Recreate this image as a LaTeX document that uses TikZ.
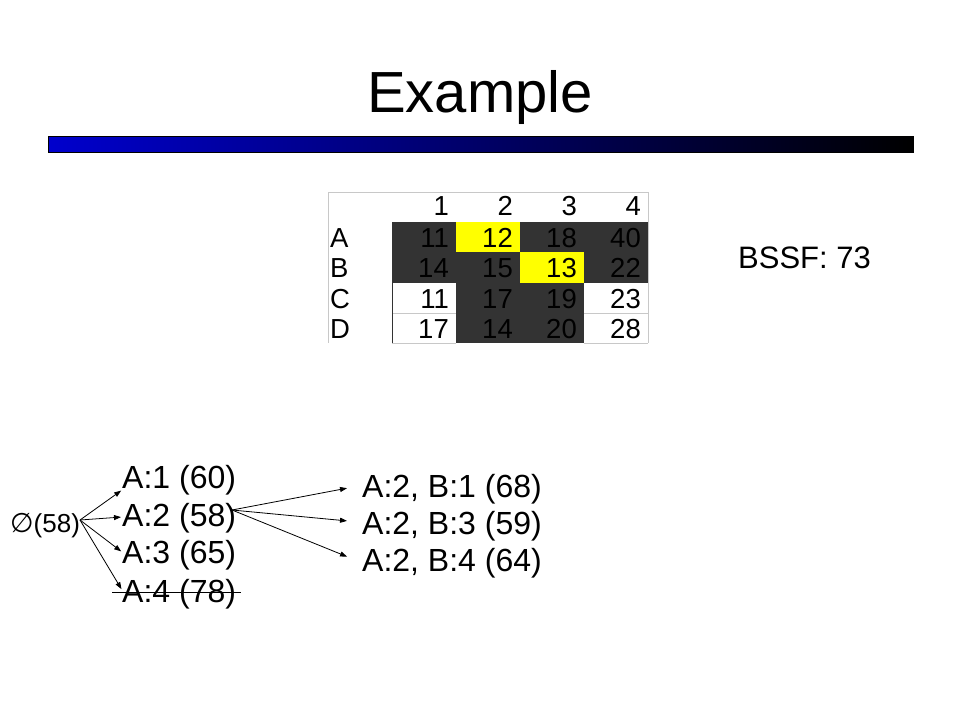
\documentclass[tikz,border=0pt]{standalone}
\usepackage{fontspec}
\setmainfont{Liberation Sans}
\newfontfamily\symfont{DejaVu Sans}
\usetikzlibrary{arrows.meta}
\definecolor{cellDark}{RGB}{51,51,51}
\definecolor{cellYellow}{RGB}{255,255,0}
\definecolor{gridGray}{RGB}{200,200,200}
\definecolor{barBlue}{RGB}{0,0,205}
\tikzset{
  fs/.style={font=\fontsize{#1}{#1}\selectfont},
  cell/.style={anchor=base east, inner sep=0pt, fs=27.5},
  rowlab/.style={anchor=base west, inner sep=0pt, fs=27.5},
  treenode/.style={anchor=base west, inner sep=0pt, fs=32},
  tarrow/.style={-{Triangle[length=7pt,width=5pt]}, line width=0.8pt, shorten >=1pt},
}
\begin{document}
\begin{tikzpicture}[x=1pt,y=-1pt]
\useasboundingbox (0,0) rectangle (960,720);
\fill[white] (0,0) rectangle (960,720);
% title
\node[anchor=base, inner sep=0pt, fs=58] (title) at (480,112) {Example};
% bar
\shade[left color=barBlue, right color=black, middle color=black!50!barBlue] (48,136) rectangle (913,152);
\draw[line width=0.8pt] (48,136) rectangle (913,152);
% table fills
\fill[cellDark] (392,222) rectangle (648,283);
\fill[cellDark] (456,283) rectangle (584,343);
\fill[cellYellow] (456,222) rectangle (520,252);
\fill[cellYellow] (520,252) rectangle (584,283);
% grid lines
\draw[gridGray, line width=0.8pt] (328,192) -- (648,192) -- (648,343);
\draw[gridGray, line width=0.8pt] (328,192) -- (328,343);
\draw[gridGray, line width=0.8pt] (392,313) -- (456,313) (584,313) -- (648,313);
\draw[gridGray, line width=0.8pt] (392,343) -- (456,343) (584,343) -- (648,343);
\draw[black!80, line width=0.8pt] (392,283) -- (392,343);
% header
\foreach \c/\t in {1/1,2/2,3/3,4/4}
  \node[cell] (h\c) at ({392+64*\c-7},215) {\t};
% row labels
\node[rowlab] (rA) at (330,247) {A};
\node[rowlab] (rB) at (330,277) {B};
\node[rowlab] (rC) at (330,308) {C};
\node[rowlab] (rD) at (330,338) {D};
% cells
\foreach \r/\y/\a/\b/\cc/\d in {A/247/11/12/18/40, B/277/14/15/13/22, C/308/11/17/19/23, D/338/17/14/20/28}{
  \node[cell] (\r1) at (449,\y) {\a};
  \node[cell] (\r2) at (513,\y) {\b};
  \node[cell] (\r3) at (577,\y) {\cc};
  \node[cell] (\r4) at (641,\y) {\d};
}
% BSSF
\node[anchor=base west, inner sep=0pt, fs=31] (bssf) at (738,268) {BSSF: 73};
% tree
\node[anchor=base west, inner sep=0pt, fs=26] (root) at (10,532) {{\symfont\fontsize{27}{27}\selectfont ∅}(58)};
\coordinate (rootR) at (80,520);
\node[treenode] (a1) at (122,488) {A:1 (60)};
\node[treenode] (a2) at (122,526) {A:2 (58)};
\node[treenode] (a3) at (122,563) {A:3 (65)};
\node[treenode] (a4) at (122,602) {A:4 (78)};
\draw[line width=0.8pt] (112,592) -- (241,592);
\coordinate (a2R) at (232,510);
\node[treenode] (b1) at (362,497) {A:2, B:1 (68)};
\node[treenode] (b3) at (362,534) {A:2, B:3 (59)};
\node[treenode] (b4) at (362,571) {A:2, B:4 (64)};
\draw[tarrow] (rootR) -- (a1.west |- 0,490);
\draw[tarrow] (rootR) -- (a2.west |- 0,517);
\draw[tarrow] (rootR) -- (a3.west |- 0,552);
\draw[tarrow] (rootR) -- (a4.west |- 0,590);
\draw[tarrow] (a2R) -- ([xshift=-14pt]b1.west |- 0,488);
\draw[tarrow] (a2R) -- ([xshift=-14pt]b3.west |- 0,521);
\draw[tarrow] (a2R) -- ([xshift=-14pt]b4.west |- 0,557);
\end{tikzpicture}
\end{document}
